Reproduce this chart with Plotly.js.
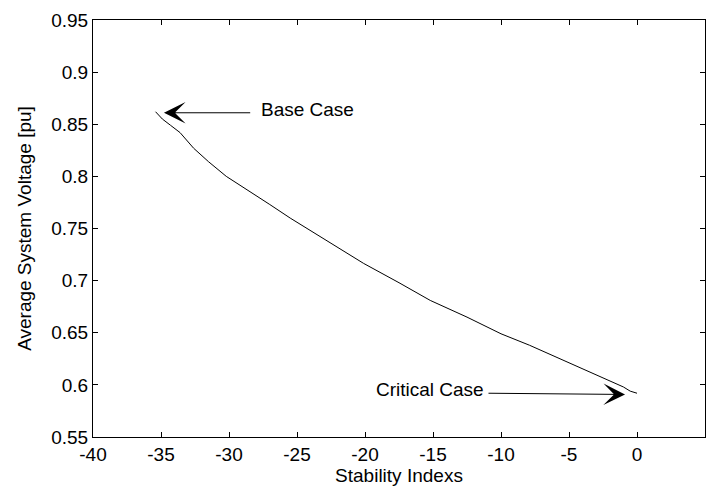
<!DOCTYPE html>
<html>
<head>
<meta charset="utf-8">
<script src="https://cdn.plot.ly/plotly-3.0.1.min.js"></script>
<style>html,body{margin:0;padding:0;background:#fff;}#chart{width:707px;height:489px;}</style>
</head>
<body>
<div id="chart"></div>
<script>
// Curve data
var stabilityIndex = [-35.4, -34.9, -34.3, -33.6, -32.6, -31.5, -30.2, -28.5, -27.0, -25.5, -24.0, -22.6, -20.1, -17.5, -15.2, -12.5, -10.0, -7.9, -5.0, -2.5, -1.0, -0.5, 0.0];
var avgVoltage     = [0.862, 0.855, 0.849, 0.842, 0.827, 0.814, 0.800, 0.786, 0.773, 0.760, 0.748, 0.736, 0.7165, 0.698, 0.681, 0.665, 0.649, 0.638, 0.621, 0.607, 0.598, 0.594, 0.592];

var xTickVals = [-40, -35, -30, -25, -20, -15, -10, -5, 0, 5];
var xTickText = ['-40', '-35', '-30', '-25', '-20', '-15', '-10', '-5', '0', '5'];
var yTickVals = [0.55, 0.6, 0.65, 0.7, 0.75, 0.8, 0.85, 0.9, 0.95];
var yTickText = ['0.55', '0.6', '0.65', '0.7', '0.75', '0.8', '0.85', '0.9', '0.95'];

// Annotation labels and their anchor points
var labelTexts = ['Base Case', 'Critical Case'];
var labelX = [-27.72, -19.26];
var labelY = [0.864, 0.5954];
var arrowHeadX = [-34.78, -0.88];
var arrowHeadY = [0.861, 0.5908];
var arrowTailX = [-28.33, -11.03];
var arrowTailY = [0.861, 0.5920];

var FONT = 'Liberation Sans, Arial, Helvetica, sans-serif';

var trace = {
  x: stabilityIndex,
  y: avgVoltage,
  type: 'scatter',
  mode: 'lines',
  line: {color: '#000000', width: 1},
  hoverinfo: 'skip'
};

var annotations = [];
for (var i = 0; i < labelTexts.length; i++) {
  annotations.push({
    x: arrowHeadX[i], y: arrowHeadY[i], xref: 'x', yref: 'y',
    ax: arrowTailX[i], ay: arrowTailY[i], axref: 'x', ayref: 'y',
    text: '', showarrow: true, arrowhead: 3, arrowsize: 3.6, arrowwidth: 1,
    arrowcolor: '#000000', standoff: 0, startstandoff: 0
  });
  annotations.push({
    x: labelX[i], y: labelY[i], xref: 'x', yref: 'y',
    text: labelTexts[i], showarrow: false, xanchor: 'left', yanchor: 'middle',
    borderpad: 0, font: {family: FONT, size: 19, color: '#000000'}
  });
}

var axisCommon = {
  showline: true, linecolor: '#000000', linewidth: 1,
  mirror: 'allticks', ticks: 'inside', ticklen: 5, tickwidth: 1, tickcolor: '#000000',
  showgrid: false, zeroline: false, automargin: false,
  tickfont: {family: FONT, size: 19, color: '#000000'}
};

var layout = {
  width: 707, height: 489,
  margin: {l: 93, r: 2, t: 20, b: 52, pad: 0},
  paper_bgcolor: '#ffffff', plot_bgcolor: '#ffffff',
  showlegend: false,
  font: {family: FONT, size: 19, color: '#000000'},
  xaxis: Object.assign({}, axisCommon, {
    range: [-40, 5], tickmode: 'array', tickvals: xTickVals, ticktext: xTickText,
    title: {text: 'Stability Indexs', font: {family: FONT, size: 19, color: '#000000'}, standoff: 4}
  }),
  yaxis: Object.assign({}, axisCommon, {
    range: [0.55, 0.95], tickmode: 'array', tickvals: yTickVals, ticktext: yTickText,
    title: {text: 'Average System Voltage [pu]', font: {family: FONT, size: 19, color: '#000000'}, standoff: 14}
  }),
  annotations: annotations
};

Plotly.newPlot('chart', [trace], layout, {displayModeBar: false, staticPlot: true});
</script>
</body>
</html>
